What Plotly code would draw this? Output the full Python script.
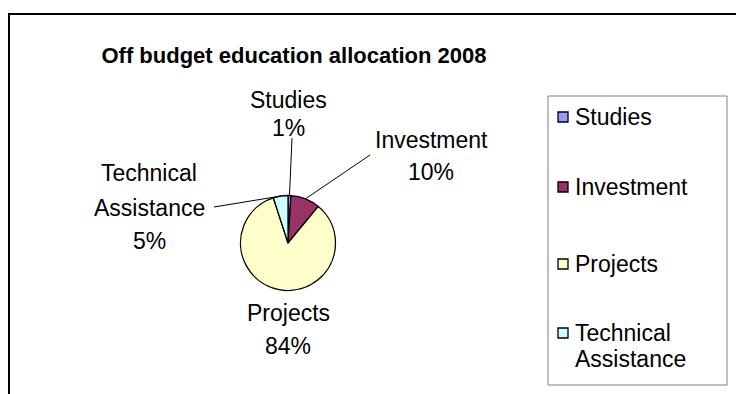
import math
import plotly.graph_objects as go

# Off-budget education allocation, 2008 (share of total, %)
categories = ["Studies", "Investment", "Projects", "Technical Assistance"]
shares = [1, 10, 84, 5]
colors = ["#9999FF", "#993366", "#FFFFCC", "#CCFFFF"]
# names split over lines as they are printed on the chart
label_lines = [["Studies"], ["Investment"], ["Projects"], ["Technical", "Assistance"]]
legend_lines = [["Studies"], ["Investment"], ["Projects"], ["Technical", "Assistance"]]

W, H = 736, 394
FONT = "Liberation Sans, Arial, sans-serif"
TEXT_SIZE = 23

# pie geometry in pixels
CX, CY, R = 288, 243, 47.5


def paper(x, y):
    return x / W, 1 - y / H


fig = go.Figure()

x0, y1 = paper(CX - R, CY - R)
x1, y0 = paper(CX + R, CY + R)
fig.add_trace(go.Pie(
    labels=categories,
    values=shares,
    marker=dict(colors=colors, line=dict(color="black", width=1.3)),
    sort=False,
    direction="clockwise",
    rotation=0,
    textinfo="none",
    hoverinfo="label+percent",
    showlegend=False,
    domain=dict(x=[x0, x1], y=[y0, y1]),
))

# data label placement: centre x, y of each text line, y of the percent,
# and the end of the leader line on the label side
label_pos = {
    "Studies": dict(x=288, ys=[100], y_pct=128, anchor=(292, 138)),
    "Investment": dict(x=431, ys=[140], y_pct=172, anchor=(370, 155)),
    "Projects": dict(x=288, ys=[313], y_pct=346, anchor=None),
    "Technical Assistance": dict(x=149, ys=[173, 208], y_pct=241, anchor=(214, 207)),
}

total = sum(shares)
annotations = []
shapes = []
start = 0.0
for cat, lines, v in zip(categories, label_lines, shares):
    pct = round(100 * v / total)
    mid = start + v / total * 360 / 2
    start += v / total * 360
    p = label_pos[cat]
    for txt, yy in zip(lines + [f"{pct}%"], p["ys"] + [p["y_pct"]]):
        ax_, ay_ = paper(p["x"], yy)
        annotations.append(dict(
            x=ax_, y=ay_, xref="paper", yref="paper", text=txt, showarrow=False,
            font=dict(family=FONT, size=TEXT_SIZE, color="black"),
            xanchor="center", yanchor="middle",
        ))
    if p["anchor"] is not None:
        ex = CX + R * math.sin(math.radians(mid))
        ey = CY - R * math.cos(math.radians(mid))
        ax_, ay_ = paper(*p["anchor"])
        bx_, by_ = paper(ex, ey)
        shapes.append(dict(type="line", xref="paper", yref="paper",
                           x0=ax_, y0=ay_, x1=bx_, y1=by_,
                           line=dict(color="black", width=1)))

# legend box with square swatches
LEG_L, LEG_T, LEG_R, LEG_B = 548, 96, 727, 385
lx0, ly1 = paper(LEG_L, LEG_T)
lx1, ly0 = paper(LEG_R, LEG_B)
shapes.append(dict(type="rect", xref="paper", yref="paper",
                   x0=lx0, y0=ly0, x1=lx1, y1=ly1,
                   line=dict(color="#808080", width=1), fillcolor="white"))
legend_rows = [[117], [187], [264], [333, 359]]
SW = 10
for lines, col, rows in zip(legend_lines, colors, legend_rows):
    sx0, sy1 = paper(558, rows[0] - SW / 2)
    sx1, sy0 = paper(558 + SW, rows[0] + SW / 2)
    shapes.append(dict(type="rect", xref="paper", yref="paper",
                       x0=sx0, y0=sy0, x1=sx1, y1=sy1,
                       fillcolor=col, line=dict(color="black", width=1.3)))
    for txt, yy in zip(lines, rows):
        tx, ty = paper(573, yy)
        annotations.append(dict(
            x=tx, y=ty, xref="paper", yref="paper", text=txt, showarrow=False,
            font=dict(family=FONT, size=TEXT_SIZE, color="black"),
            xanchor="left", yanchor="middle",
        ))

# chart frame
fx0, fy1 = paper(9, 14)
shapes.append(dict(type="rect", xref="paper", yref="paper",
                   x0=fx0, y0=-0.05, x1=1.05, y1=fy1,
                   line=dict(color="black", width=2), layer="below"))

fig.update_layout(
    width=W, height=H,
    margin=dict(l=0, r=0, t=0, b=0),
    paper_bgcolor="white", plot_bgcolor="white",
    title=dict(text="<b>Off budget education allocation 2008</b>",
               x=294 / W, xanchor="center", y=1 - 55 / H, yanchor="middle",
               font=dict(family=FONT, size=22, color="black")),
    showlegend=False,
    annotations=annotations,
    shapes=shapes,
)

fig.write_html("out.html")
